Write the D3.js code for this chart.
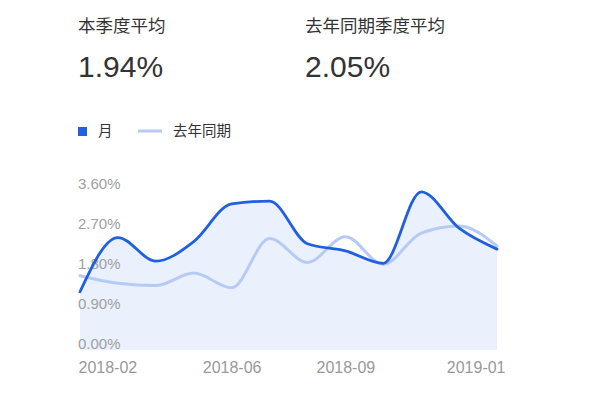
<!DOCTYPE html>
<html><head><meta charset="utf-8">
<script src="https://cdn.jsdelivr.net/npm/d3@7"></script>
<style>
html,body{margin:0;padding:0;background:#fff;}
svg{display:block;font-family:"Liberation Sans","Noto Sans CJK SC",sans-serif;}
</style></head>
<body>
<svg id="chart" width="600" height="400"></svg>
<script>
const months = ["2018-02","2018-03","2018-04","2018-05","2018-06","2018-07","2018-08","2018-09","2018-10","2018-11","2018-12","2019-01"];
const monthValues = [1.31,2.53,2.00,2.44,3.29,3.35,2.39,2.23,1.95,3.56,2.74,2.27];
const lastYearValues = [1.67,1.50,1.45,1.73,1.40,2.51,1.97,2.55,1.93,2.63,2.79,2.34];
const yTicks = [0,0.9,1.8,2.7,3.6];
const xTickLabels = ["2018-02","2018-06","2018-09","2019-01"];
const summaryLabels = ["本季度平均","去年同期季度平均"];
const summaryValues = ["1.94%","2.05%"];
const seriesNames = ["月","去年同期"];

const svg = d3.select("#chart");
const blue = "#1f5fe2", light = "#b5cbf6", fill = "#eaf1fc";

const x = d3.scalePoint().domain(months).range([80, 497]);
const y = d3.scaleLinear().domain([0, 3.6]).range([350, 190]);

// summary header
const sx = [78, 305];
summaryLabels.forEach((t, i) => {
  svg.append("text").attr("x", sx[i]).attr("y", 32).attr("font-size", 17.5)
    .attr("font-family", "'Noto Sans CJK SC',sans-serif").attr("fill", "#333").text(t);
  svg.append("text").attr("x", sx[i]).attr("y", 77).attr("font-size", 30)
    .attr("fill", "#333").text(summaryValues[i]);
});

// legend
svg.append("rect").attr("x", 78).attr("y", 127).attr("width", 9).attr("height", 9).attr("fill", blue);
svg.append("text").attr("x", 98).attr("y", 136).attr("font-size", 14.5)
  .attr("font-family", "'Noto Sans CJK SC',sans-serif").attr("fill", "#333").text(seriesNames[0]);
svg.append("line").attr("x1", 138).attr("x2", 162).attr("y1", 131).attr("y2", 131)
  .attr("stroke", light).attr("stroke-width", 3);
svg.append("text").attr("x", 173).attr("y", 136).attr("font-size", 14.5)
  .attr("font-family", "'Noto Sans CJK SC',sans-serif").attr("fill", "#333").text(seriesNames[1]);

const curve = d3.curveMonotoneX;
// area under main series
svg.append("path").datum(monthValues)
  .attr("d", d3.area().x((d, i) => x(months[i])).y0(y(0)).y1(d => y(d)).curve(curve))
  .attr("fill", fill);

// y axis labels
const yAxis = d3.axisLeft(y).tickValues(yTicks).tickSize(0).tickFormat(d => d.toFixed(2) + "%");
const gy = svg.append("g").call(yAxis);
gy.select(".domain").remove();
gy.selectAll("text").attr("x", 78).attr("dy", "-2px").attr("dominant-baseline", "auto")
  .attr("text-anchor", "start").attr("font-size", 15).attr("fill", "#a0a0a0")
  .attr("font-family", "'Liberation Sans',sans-serif");

// lines
svg.append("path").datum(lastYearValues)
  .attr("d", d3.line().x((d, i) => x(months[i])).y(d => y(d)).curve(curve))
  .attr("fill", "none").attr("stroke", light).attr("stroke-width", 3).attr("stroke-linecap", "round");
svg.append("path").datum(monthValues)
  .attr("d", d3.line().x((d, i) => x(months[i])).y(d => y(d)).curve(curve))
  .attr("fill", "none").attr("stroke", blue).attr("stroke-width", 2.8).attr("stroke-linecap", "round");

// x axis labels
const xAxis = d3.axisBottom(x).tickValues(xTickLabels).tickSize(0);
const gx = svg.append("g").attr("transform", "translate(0,362)").call(xAxis);
gx.select(".domain").remove();
gx.selectAll("text").attr("font-size", 16).attr("fill", "#999").attr("y", 0).attr("dy", "0.71em")
  .attr("font-family", "'Liberation Sans',sans-serif")
  .attr("text-anchor", (d, i) => i === 0 ? "start" : (i === xTickLabels.length - 1 ? "end" : "middle"))
  .attr("dx", (d, i) => i === 0 ? -2 : (i === xTickLabels.length - 1 ? 8 : 0));
</script>
</body></html>
